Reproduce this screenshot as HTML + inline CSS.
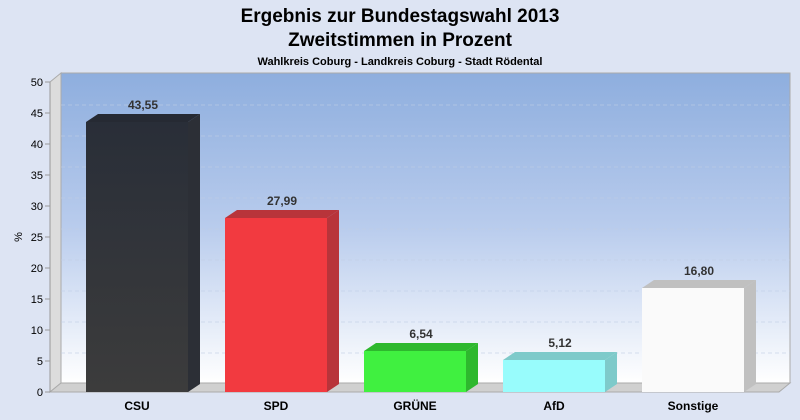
<!DOCTYPE html>
<html><head><meta charset="utf-8"><style>
body{margin:0;width:800px;height:420px;background:#dde4f3;overflow:hidden}
svg{display:block;font-family:"Liberation Sans",sans-serif}
</style></head><body>
<svg width="800" height="420" viewBox="0 0 800 420">
<defs>
<linearGradient id="wall" x1="0" y1="0" x2="0" y2="1">
<stop offset="0" stop-color="#8eaede"/><stop offset="0.5" stop-color="#b9cced"/><stop offset="1" stop-color="#ffffff"/>
</linearGradient>
<linearGradient id="csu" x1="0" y1="0" x2="0" y2="1"><stop offset="0" stop-color="#292e38"/><stop offset="1" stop-color="#3c3c3c"/></linearGradient>
</defs>
<text x="400" y="22" text-anchor="middle" font-size="19" font-weight="bold" fill="#000">Ergebnis zur Bundestagswahl 2013</text>
<text x="400" y="46" text-anchor="middle" font-size="19" font-weight="bold" fill="#000">Zweitstimmen in Prozent</text>
<text x="400" y="65" text-anchor="middle" font-size="11" font-weight="bold" fill="#000">Wahlkreis Coburg - Landkreis Coburg - Stadt Rödental</text>
<rect x="61" y="73" width="729" height="310" fill="url(#wall)" stroke="#aaa" stroke-width="1"/>
<polygon points="50,82 61,73 61,383 50,392" fill="#dcdcdc" stroke="#aaa"/>
<polygon points="50,392 61,383 790,383 779,392" fill="#d0d0d0" stroke="#aaa"/>
<g stroke="#c0cde4" stroke-opacity="0.6" stroke-dasharray="4,3" stroke-width="1">
<line x1="61" y1="105" x2="790" y2="105"/><line x1="61" y1="136" x2="790" y2="136"/><line x1="61" y1="167" x2="790" y2="167"/><line x1="61" y1="198" x2="790" y2="198"/><line x1="61" y1="229" x2="790" y2="229"/><line x1="61" y1="260" x2="790" y2="260"/><line x1="61" y1="291" x2="790" y2="291"/><line x1="61" y1="322" x2="790" y2="322"/><line x1="61" y1="353" x2="790" y2="353"/>
</g>
<line x1="50" y1="82" x2="50" y2="392" stroke="#999"/>
<g font-size="11" fill="#000" text-anchor="end">
<text x="43" y="86">50</text><text x="43" y="117">45</text><text x="43" y="148">40</text><text x="43" y="179">35</text><text x="43" y="210">30</text><text x="43" y="241">25</text><text x="43" y="272">20</text><text x="43" y="303">15</text><text x="43" y="334">10</text><text x="43" y="365">5</text><text x="43" y="396">0</text>
</g>
<g stroke="#999"><line x1="45" y1="82" x2="50" y2="82"/><line x1="45" y1="113" x2="50" y2="113"/><line x1="45" y1="144" x2="50" y2="144"/><line x1="45" y1="175" x2="50" y2="175"/><line x1="45" y1="206" x2="50" y2="206"/><line x1="45" y1="237" x2="50" y2="237"/><line x1="45" y1="268" x2="50" y2="268"/><line x1="45" y1="299" x2="50" y2="299"/><line x1="45" y1="330" x2="50" y2="330"/><line x1="45" y1="361" x2="50" y2="361"/><line x1="45" y1="392" x2="50" y2="392"/></g>
<text x="22" y="237" font-size="11" transform="rotate(-90 22 237)" text-anchor="middle">%</text>
<g>
<polygon points="86,122 98,114 200,114 188,122" fill="#262a33"/><polygon points="188,122 200,114 200,384 188,392" fill="#2c2f36"/><rect x="86" y="122" width="102" height="270" fill="url(#csu)"/>
<polygon points="225,218 237,210 339,210 327,218" fill="#b8343a"/><polygon points="327,218 339,210 339,384 327,392" fill="#b8343a"/><rect x="225" y="218" width="102" height="174" fill="#f23a40"/>
<polygon points="364,351 376,343 478,343 466,351" fill="#2eb82e"/><polygon points="466,351 478,343 478,384 466,392" fill="#2eb82e"/><rect x="364" y="351" width="102" height="41" fill="#40f040"/>
<polygon points="503,360 515,352 617,352 605,360" fill="#7ecaca"/><polygon points="605,360 617,352 617,384 605,392" fill="#7ecaca"/><rect x="503" y="360" width="102" height="32" fill="#98fcfc"/>
<polygon points="642,288 654,280 756,280 744,288" fill="#c0c0c0"/><polygon points="744,288 756,280 756,384 744,392" fill="#c0c0c0"/><rect x="642" y="288" width="102" height="104" fill="#fafafa"/>
</g>
<g font-size="12" font-weight="bold" fill="#333" text-anchor="middle">
<text x="143" y="109">43,55</text><text x="282" y="205">27,99</text><text x="421" y="338">6,54</text><text x="560" y="347">5,12</text><text x="699" y="275">16,80</text>
</g>
<g font-size="12" font-weight="bold" fill="#000" text-anchor="middle">
<text x="137" y="410">CSU</text><text x="276" y="410">SPD</text><text x="415" y="410">GRÜNE</text><text x="554" y="410">AfD</text><text x="693" y="410">Sonstige</text>
</g>
</svg>
</body></html>
